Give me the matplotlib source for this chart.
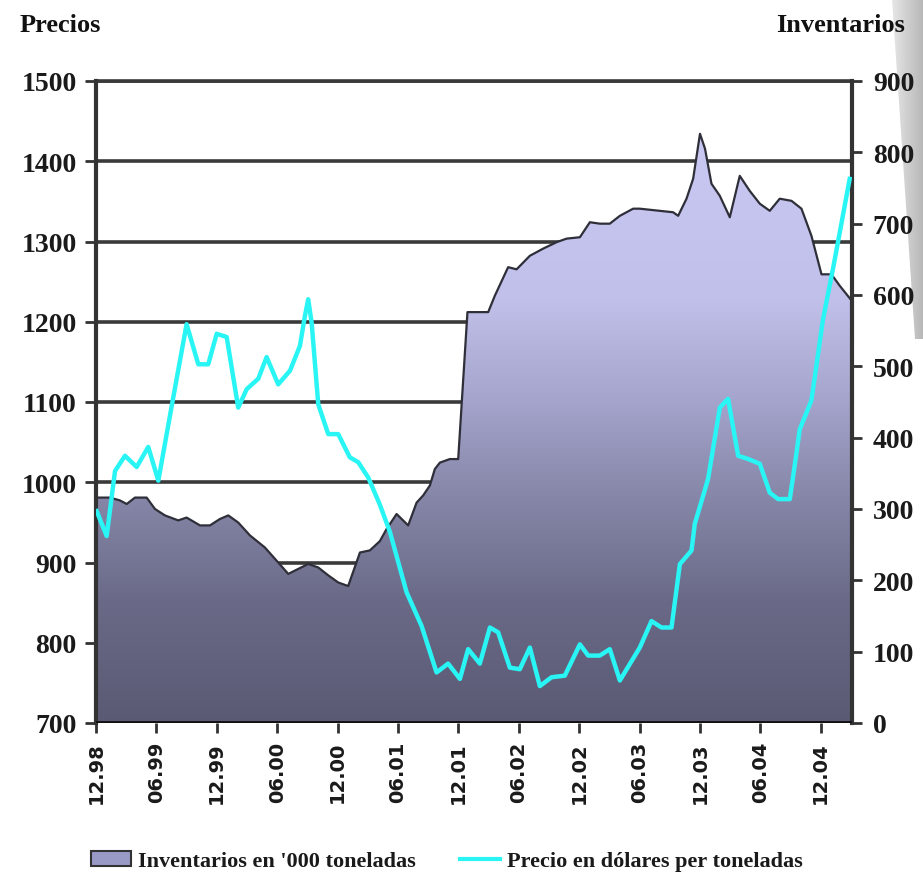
import numpy as np
import matplotlib
matplotlib.use("Agg")
import matplotlib.pyplot as plt
from matplotlib.patches import Patch, Polygon
from matplotlib.lines import Line2D
from matplotlib.colors import LinearSegmentedColormap

# ---------------- data (months since Dec 1998) ----------------
price_months = [0.07, 1.06, 1.89, 2.88, 4.04, 5.19, 6.19, 7.52, 9.0, 10.16, 11.15, 11.99,
                12.98, 14.13, 14.97, 16.12, 16.95, 18.1, 19.27, 20.26, 20.75, 21.08, 21.42,
                22.08, 23.07, 24.06, 25.22, 26.05, 27.04, 28.2, 29.2, 30.85, 32.34, 33.83,
                34.98, 36.15, 36.97, 38.13, 39.13, 39.95, 41.11, 42.1, 43.1, 44.09, 45.25,
                46.57, 48.07, 48.89, 50.05, 51.04, 52.04, 54.02, 55.18, 56.17, 57.17, 58.0,
                59.16, 59.48, 60.8, 61.97, 62.79, 63.79, 64.78, 65.94, 66.93, 67.76, 68.92,
                69.41, 69.91, 71.07, 72.22, 73.21, 73.88, 74.87]
price_values = [964, 933, 1014, 1033, 1019, 1044, 1002, 1095, 1197, 1147, 1147, 1185,
                1181, 1093, 1116, 1129, 1156, 1122, 1139, 1170, 1207, 1228, 1199,
                1097, 1060, 1060, 1031, 1025, 1006, 972, 938, 863, 821, 763,
                774, 755, 792, 774, 819, 813, 769, 767, 794, 746, 757,
                759, 798, 784, 784, 792, 753, 794, 827, 819, 819, 898,
                915, 948, 1004, 1093, 1104, 1033, 1029, 1023, 987, 979, 979,
                1021, 1066, 1102, 1203, 1266, 1311, 1378]

inv_months = [0.0, 1.39, 2.38, 3.05, 3.87, 5.03, 5.86, 6.85, 8.17, 9.0, 10.33, 11.32,
              12.31, 13.14, 14.13, 15.29, 16.78, 18.1, 19.1, 20.09, 21.08, 22.08, 23.07,
              24.06, 25.05, 26.22, 27.21, 28.2, 28.87, 29.86, 31.01, 31.85, 32.5, 33.17,
              33.66, 34.16, 35.15, 35.98, 36.9, 38.96, 39.62, 40.94, 41.78, 43.1, 44.42,
              45.75, 46.74, 48.07, 49.06, 50.05, 51.04, 52.04, 53.36, 54.02, 57.33, 57.83,
              58.66, 59.32, 60.0, 60.5, 61.14, 61.97, 62.96, 63.95, 64.94, 65.94, 66.93,
              67.92, 69.09, 70.08, 71.07, 72.07, 73.06, 73.88, 75.07]
inv_values = [316, 316, 312, 307, 316, 316, 300, 291, 284, 288, 277, 277,
              286, 291, 281, 263, 246, 225, 209, 216, 223, 218, 207,
              197, 192, 239, 242, 255, 272, 293, 277, 309, 319, 333,
              356, 365, 370, 370, 576, 576, 599, 639, 636, 655, 665,
              674, 679, 681, 702, 700, 700, 711, 721, 721, 716, 711,
              735, 763, 826, 805, 756, 739, 709, 767, 746, 728, 718,
              735, 732, 721, 683, 629, 629, 613, 592]

tick_months = list(range(0, 73, 6))
tick_labels = ["12.98", "06.99", "12.99", "06.00", "12.00", "06.01", "12.01",
               "06.02", "12.02", "06.03", "12.03", "06.04", "12.04"]
price_ticks = list(range(700, 1501, 100))
inv_ticks = list(range(0, 901, 100))

P_MIN, P_MAX = 700, 1500
I_MIN, I_MAX = 0, 900

def i2p(v):
    return P_MIN + (np.asarray(v, dtype=float) - I_MIN) * (P_MAX - P_MIN) / (I_MAX - I_MIN)

def p2i(v):
    return I_MIN + (np.asarray(v, dtype=float) - P_MIN) * (I_MAX - I_MIN) / (P_MAX - P_MIN)

# ---------------- figure ----------------
W, H = 923, 878
fig = plt.figure(figsize=(W / 100, H / 100), dpi=100)

# slide shadow at right edge (behind everything)
shax = fig.add_axes([892 / W, 1 - 340 / H, (W - 892) / W, 340 / H], zorder=-1)
shax.axis("off")
shax.set_xlim(0, 1); shax.set_ylim(0, 1)
sh = np.linspace(0, 1, 64).reshape(1, -1)
shcmap = LinearSegmentedColormap.from_list("sh", ["#e6e6e6", "#b8b8b8"])
img = shax.imshow(sh, cmap=shcmap, aspect="auto", extent=[0, 1, 0, 1])
wedge = Polygon([[0, 1], [1, 1], [1, 0], [(915 - 892) / (W - 892), 0]], closed=True,
                transform=shax.transAxes, facecolor="none", edgecolor="none")
shax.add_patch(wedge)
img.set_clip_path(wedge)

ax = fig.add_axes([96 / W, 1 - 724 / H, (852 - 96) / W, (724 - 82) / H])
ax.patch.set_alpha(0)

LAB_FONT = ["Liberation Serif", "DejaVu Serif"]
dark = "#333333"

ax.set_xlim(0, 75.1)
ax.set_ylim(P_MIN, P_MAX)

# gridlines (behind area)
ax.set_axisbelow(True)
ax.yaxis.grid(True, color="#3a3a3a", linewidth=2.6)
ax.xaxis.grid(False)
ax.axhline(P_MAX, color="#3a3a3a", linewidth=2.6, clip_on=False, zorder=0.6)

# gradient filled area (inventory, mapped onto price scale)
inv_p = i2p(inv_values)
poly = ax.fill_between(inv_months, inv_p, P_MIN, facecolor="none", edgecolor="none", zorder=1)
cmap = LinearSegmentedColormap.from_list(
    "inv", [(0.0, "#5a5a74"), (0.19, "#6a6a88"), (0.35, "#8686a8"),
            (0.5, "#a4a4cc"), (0.66, "#c0c0ea"), (1.0, "#cbcbf6")])
grad = np.linspace(0, 1, 256).reshape(-1, 1)
im = ax.imshow(grad, cmap=cmap, origin="lower", aspect="auto",
               extent=[0, 75.1, P_MIN, P_MAX], zorder=1, interpolation="bilinear")
clip_path = poly.get_paths()[0]
im.set_clip_path(clip_path, transform=ax.transData)
ax.plot(inv_months, inv_p, color="#2f2f3a", linewidth=1.6, zorder=2)

# price line
ax.plot(price_months, price_values, color="#2af5f5", linewidth=3.2, zorder=3,
        solid_joinstyle="round")

# axes styling
for s in ["top", "bottom"]:
    ax.spines[s].set_visible(False)
ax.spines["left"].set_color(dark)
ax.spines["left"].set_linewidth(3)
ax.spines["right"].set_color(dark)
ax.spines["right"].set_linewidth(3)
ax.axhline(P_MIN, color="#111111", linewidth=3.5, zorder=4)

ax.set_yticks(price_ticks)
ax.set_yticklabels([str(t) for t in price_ticks])
ax.tick_params(axis="y", direction="out", length=8, width=2, color=dark, pad=6)
for lab in ax.get_yticklabels():
    lab.set_fontfamily(LAB_FONT)
    lab.set_fontweight("bold")
    lab.set_fontsize(20)
    lab.set_color("#1a1a1a")

ax.set_xticks(tick_months)
ax.set_xticklabels(tick_labels, rotation=90)
ax.tick_params(axis="x", direction="out", length=7, width=2, color=dark, pad=6)
for lab in ax.get_xticklabels():
    lab.set_fontfamily(["DejaVu Sans"])
    lab.set_fontweight("bold")
    lab.set_fontsize(14)
    lab.set_color("#1a1a1a")

sec = ax.secondary_yaxis("right", functions=(p2i, i2p))
sec.set_yticks(inv_ticks)
sec.set_yticklabels([str(t) for t in inv_ticks])
sec.spines["right"].set_visible(False)
sec.tick_params(axis="y", direction="out", length=7, width=2, color=dark, pad=8)
for lab in sec.get_yticklabels():
    lab.set_fontfamily(LAB_FONT)
    lab.set_fontweight("bold")
    lab.set_fontsize(20)
    lab.set_color("#1a1a1a")

# titles
fig.text(20 / W, 1 - 25 / H, "Precios", fontfamily=["Liberation Serif", "DejaVu Serif"],
         fontweight="bold", fontsize=19, ha="left", va="center", color="#111111")
fig.text(905 / W, 1 - 25 / H, "Inventarios", fontfamily=["Liberation Serif", "DejaVu Serif"],
         fontweight="bold", fontsize=19, ha="right", va="center", color="#111111")

# legend
handles = [Patch(facecolor="#9a9ac6", edgecolor="#333333", linewidth=1.5),
           Line2D([0], [0], color="#2af5f5", linewidth=3)]
labels = ["Inventarios en '000 toneladas", "Precio en dólares per toneladas"]
leg = fig.legend(handles, labels, loc="center", bbox_to_anchor=(447 / W, 1 - 862 / H),
                 ncol=2, frameon=False, columnspacing=2.0, handlelength=1.8,
                 handletextpad=0.3,
                 prop={"family": LAB_FONT, "weight": "bold", "size": 16})
for t in leg.get_texts():
    t.set_color("#1a1a1a")

fig.savefig("out.png", dpi=100)
